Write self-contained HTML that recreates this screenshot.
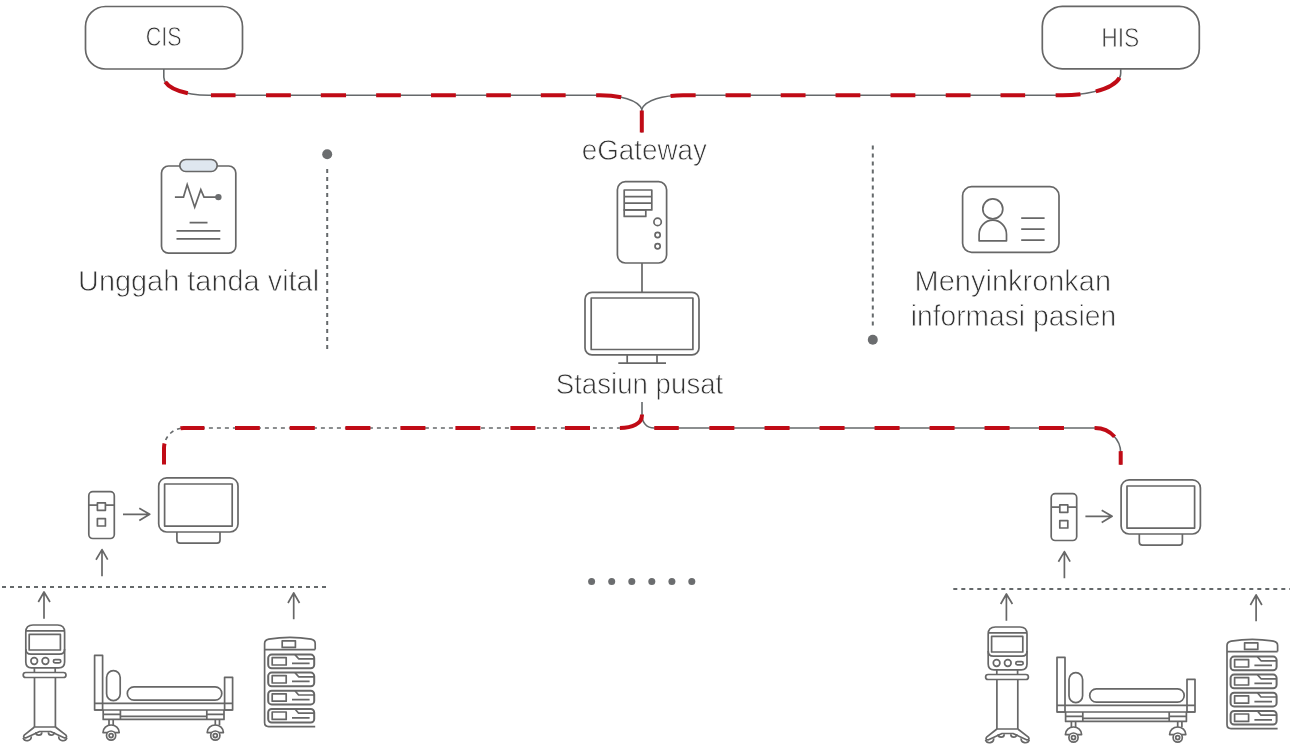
<!DOCTYPE html>
<html><head><meta charset="utf-8"><style>
html,body{margin:0;padding:0;background:#fff;width:1290px;height:750px;overflow:hidden}
svg{display:block;will-change:transform}
text{font-family:"Liberation Sans",sans-serif;fill:#333;stroke:#fff;stroke-width:0.8px}
.g{fill:none;stroke:#65696b;stroke-width:1.6}
.i{fill:none;stroke:#676767;stroke-width:1.7;stroke-linejoin:round}
.r{fill:none;stroke:#c00b16;stroke-width:4;stroke-dasharray:25 30}
.d{fill:none;stroke:#65696b;stroke-width:2;stroke-dasharray:4 4}
</style></head><body>
<svg width="1290" height="750" viewBox="0 0 1290 750">
<!-- top boxes -->
<rect class="i" x="85.5" y="6.5" width="157" height="62.5" rx="20"/>
<rect class="i" x="1042.3" y="6.3" width="157" height="62.5" rx="20"/>
<text x="145.7" y="46.0" font-size="28" textLength="35.8" lengthAdjust="spacingAndGlyphs">CIS</text>
<text x="1101.2" y="46.8" font-size="28" textLength="38.2" lengthAdjust="spacingAndGlyphs">HIS</text>
<!-- top network -->
<path class="g" d="M163.8,69 V77.3 A45,18 0 0 0 208.8,95.3 H600 C620,95.3 638,100 641.8,109.3 V132.5"/>
<path class="g" d="M1120.7,69 V73.3 A58,22 0 0 1 1062.7,95.3 H683 C663,95.3 645.5,100 641.8,109.3"/>
<path class="r" style="stroke-dasharray:0.0 13.2 25.9 23.0 24.6 30.5 24.8 30.0 25.2 30.1 24.7 30.2 24.8 30.4 24.6 30.0 24.8 30.5 24.9 26.2 22.1 620.5" d="M163.8,69 V77.3 A45,18 0 0 0 208.8,95.3 H600 C620,95.3 638,100 641.8,109.3 V132.5"/>
<path class="r" style="stroke-dasharray:0.0 8.9 28.0 15.5 24.9 30.5 24.6 30.0 24.8 30.4 24.8 30.2 24.8 30.0 24.8 30.0 25.2 29.9 25.0 595.6" d="M1120.7,69 V73.3 A58,22 0 0 1 1062.7,95.3 H683 C663,95.3 645.5,100 641.8,109.3"/>
<text x="581.7" y="160.4" font-size="30" textLength="125.3" lengthAdjust="spacingAndGlyphs">eGateway</text>
<!-- dotted verticals -->
<circle cx="327.2" cy="154.2" r="5" fill="#6b6d6f"/>
<path class="d" d="M327.2,169 V349" />
<circle cx="872.8" cy="339.8" r="5" fill="#6b6d6f"/>
<path class="d" d="M872.8,145.4 V326" />
<!-- clipboard -->
<g class="i">
<rect x="161.5" y="166" width="74.3" height="87.2" rx="7" fill="#fff"/>
<rect x="179.8" y="159.5" width="37.4" height="12" rx="6" fill="#dfe7ef"/>
<polyline style="stroke-linejoin:miter" points="174.9,197.1 183.5,197.1 187.2,184.5 194.7,207.2 200.8,189.6 204,197.1 218.4,197.1"/>
<path d="M189.6,222.7 H207.5 M176.5,230.9 H220.3 M176.5,238.9 H220.3"/>
</g>
<circle cx="218.4" cy="197.1" r="3.2" fill="#6b6d6f"/>
<text x="78.0" y="291.0" font-size="30" textLength="241.1" lengthAdjust="spacingAndGlyphs">Unggah tanda vital</text>
<!-- id card -->
<g class="i">
<rect x="962.6" y="186.7" width="96.4" height="65.6" rx="9"/>
<circle cx="992.8" cy="208.9" r="10"/>
<path d="M979.1,240.8 V234.4 A13.7,14.2 0 0 1 1006.5,234.4 V240.8 Z"/>
<path d="M1021.2,218.1 H1044.6 M1021.2,229.2 H1044.6 M1021.2,240.2 H1044.6"/>
</g>
<text x="914.6" y="291.2" font-size="30" textLength="196.5" lengthAdjust="spacingAndGlyphs">Menyinkronkan</text>
<text x="910.7" y="326.3" font-size="30" textLength="205.4" lengthAdjust="spacingAndGlyphs">informasi pasien</text>
<!-- server -->
<g class="i">
<rect x="617.4" y="181.7" width="49.2" height="81.3" rx="8"/>
<rect x="624.2" y="190" width="27.6" height="19.9"/>
<path d="M624.2,196.6 H651.8 M624.2,203.2 H651.8"/>
<rect x="624.2" y="209.9" width="21.6" height="6.5"/>
<circle cx="657.6" cy="221.9" r="3.7"/>
<circle cx="657.6" cy="235" r="2.6"/>
<circle cx="657.6" cy="246.3" r="2.6"/>
<path d="M642,263 V292.4"/>
<!-- central monitor -->
<rect x="585" y="292.4" width="114" height="62.5" rx="7"/>
<rect x="591.2" y="298" width="101.7" height="51.5"/>
<path d="M627.2,354.9 V363.1 M657,354.9 V363.1 M618.3,363.1 H666"/>
</g>
<text x="555.7" y="393.8" font-size="29.5" textLength="167.6" lengthAdjust="spacingAndGlyphs">Stasiun pusat</text>

<g id="grp">
<g class="i">
<!-- small device -->
<rect x="88.8" y="491.7" width="25.5" height="46.8" rx="4"/>
<path d="M88.8,505.1 H114.3"/>
<rect x="97.4" y="502.9" width="8" height="7.4" fill="#fff"/>
<rect x="97.4" y="518.6" width="8" height="7.4"/>
<path d="M123,514.3 H149.7 M139.3,508.3 L149.7,514.3 L139.3,520.5"/>
<path d="M102,576.3 V549.6 M96,559.7 L102,549.6 L107.7,559.7"/>
<!-- monitor -->
<rect x="158.7" y="477.9" width="79.3" height="54.1" rx="8"/>
<rect x="164.6" y="484" width="67.6" height="42.1"/>
<path d="M176.9,532 V540 Q176.9,543.2 180,543.2 H217 Q220,543.2 220,540 V532"/>
<!-- arrows -->
<path d="M44,618.7 V592 M38.3,602 L44,592 L50,602"/>
<path d="M293.7,619.2 V592.8 M288,603 L293.7,592.8 L299.5,603"/>
<!-- ventilator -->
<path d="M25.8,662 V632 Q25.8,625 33,625 H57.6 Q64.6,625 64.6,632 V662 Q64.6,667.8 58.8,667.8 H31.6 Q25.8,667.8 25.8,662 Z"/>
<path d="M25.8,630.8 H64.6 M25.8,649 Q25.8,654.2 31,654.2 H59.4 Q64.6,654.2 64.6,649"/>
<rect x="29.2" y="634.4" width="31.2" height="15.6"/>
<circle cx="34.2" cy="661" r="3.3"/>
<circle cx="45.4" cy="661" r="3.3"/>
<rect x="53.4" y="659.6" width="7.4" height="3.2" rx="1.6"/>
<path d="M34.4,667.8 V672.3 M55.2,667.8 V672.3"/>
<rect x="23.2" y="672.5" width="42.8" height="5" rx="2.5"/>
<path d="M34.5,677.5 V727 M55.4,677.5 V727 M34.5,727 H55.4"/>
<path d="M34.5,727 L24.2,735.2 Q22.6,737.6 25.6,737.9 L39.6,731.5 H50.6 L64.6,737.9 Q67.6,737.6 66,735.2 L55.4,727"/>
<path d="M23.1,737.8 A4.2,4.2 0 0 0 31.3,736.4 M58.7,736.4 A4.2,4.2 0 0 0 66.9,737.8 M35.8,732.2 A3,3 0 0 0 41.8,732.2 M48.4,732.2 A3,3 0 0 0 54.4,732.2"/>
<!-- bed -->
<rect x="94.6" y="655.4" width="8" height="54.6"/>
<rect x="224.6" y="677.3" width="8" height="32.7"/>
<rect x="106.6" y="670.6" width="13.6" height="30" rx="6.8"/>
<rect x="127.3" y="686.8" width="94.5" height="13.4" rx="6.7"/>
<path d="M94.6,703.4 H232.6 M94.6,710 H232.6"/>
<path d="M103.2,710 V719.4 H224 V710 M120.4,710 V719.4 M206.8,710 V719.4 M103.2,714.4 H120.4 M206.8,714.4 H224 M120.4,716.4 H206.8"/>
<path d="M109,719.4 V725.2 M113.2,719.4 V725.2 M215.3,719.4 V725.2 M219.5,719.4 V725.2"/>
<path d="M103,732.6 A8.1,7.6 0 0 1 119.2,732.6 Z M207.2,732.6 A8.1,7.6 0 0 1 223.4,732.6 Z"/>
<circle cx="111.1" cy="735.6" r="4.6" fill="#fff"/><circle cx="111.1" cy="735.6" r="2"/>
<circle cx="215.3" cy="735.6" r="4.6" fill="#fff"/><circle cx="215.3" cy="735.6" r="2"/>
<!-- pump stack -->
<path d="M315.2,649.6 V643.6 Q315.2,640 311,639.2 Q290,635.5 268.8,639.2 Q264.6,640 264.6,643.6 V722.6 Q264.6,726.6 268.6,726.6 H315.2 M264.6,649.6 H315.2"/>
<rect x="282.2" y="640.8" width="13.2" height="6.6"/>
</g>
<g class="i" style="stroke-width:2">
<rect x="268.2" y="654.6" width="46" height="13.6" rx="3.5"/>
<rect x="268.2" y="672.6" width="46" height="13.6" rx="3.5"/>
<rect x="268.2" y="690.8" width="46" height="13.6" rx="3.5"/>
<rect x="268.2" y="709" width="46" height="13.6" rx="3.5"/>
</g>
<g class="i">
<g id="pu"><rect x="272.2" y="657.6" width="14" height="7.4"/><path d="M292,663.4 H309.6 M295,654.6 L298.6,658.8 H314.2"/></g>
<use href="#pu" y="18"/><use href="#pu" y="36.2"/><use href="#pu" y="54.4"/>
</g>
</g>
<!-- bottom network -->
<path class="d" style="stroke-width:1.6;stroke-dashoffset:-0.8" d="M164,464.6 V448 C164,437 172.9,428 184,428 H619.8"/>
<path class="g" d="M619.8,428 C632,428 642,424 642,415 V402"/>
<path class="g" d="M1120.7,464.8 V453 C1120.7,439 1109,428 1095,428 H654 C647,428 642,423 642,415"/>
<path class="r" style="stroke-dasharray:21.2 23.2 23.9 30.6 24.8 29.9 25.1 30.6 25.0 30.0 25.0 30.0 25.0 30.0 25.0 29.5 25.1 29.9 28.9 625.5" d="M164,464.6 V448 C164,437 172.9,428 184,428 H619.8 C632,428 642,424 642,415 V402"/>
<path class="r" style="stroke-dasharray:13.6 15.9 22.5 30.6 25.0 29.4 25.0 30.0 25.0 30.0 25.0 30.0 25.0 30.0 25.0 30.2 25.0 30.6 24.5 612.5" d="M1120.7,464.8 V453 C1120.7,439 1109,428 1095,428 H654 C647,428 642,423 642,415"/>
<!-- six dots -->
<g fill="#6b6d6f">
<circle cx="591.6" cy="581.4" r="3.5"/><circle cx="611.7" cy="581.4" r="3.5"/><circle cx="631.8" cy="581.4" r="3.5"/>
<circle cx="651.8" cy="581.4" r="3.5"/><circle cx="671.9" cy="581.4" r="3.5"/><circle cx="691.8" cy="581.4" r="3.5"/>
</g>
<path class="d" d="M2,586.9 H326.2"/>
<path class="d" d="M953.3,589 H1290"/>
<use href="#grp" transform="translate(962.4,2)"/>
</svg>
</body></html>
